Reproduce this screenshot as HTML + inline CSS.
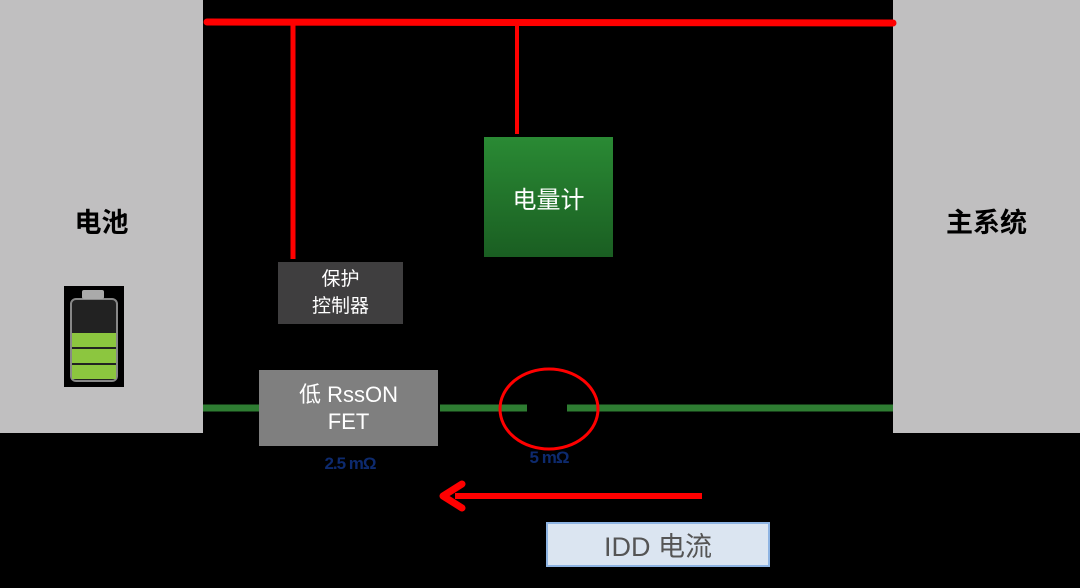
<!DOCTYPE html>
<html><head><meta charset="utf-8"><style>
body{margin:0;width:1080px;height:588px;background:#000;position:relative;overflow:hidden;font-family:"Liberation Sans","Noto Sans CJK SC",sans-serif}
.a{position:absolute}
.c{display:flex;align-items:center;justify-content:center;text-align:center}
</style></head><body>
<div class="a" style="left:0;top:0;width:203px;height:433px;background:#c0bfc0"></div>
<div class="a" style="left:893px;top:0;width:187px;height:433px;background:#c0bfc0"></div>
<div class="a c" style="left:0;top:195px;width:203px;height:50px;font-size:27px;font-weight:bold;color:#000">电池</div>
<div class="a c" style="left:893px;top:195px;width:187px;height:50px;font-size:27px;font-weight:bold;color:#000">主系统</div>
<!-- battery icon -->
<div class="a" style="left:64px;top:286px;width:60px;height:101px;background:#000"></div>
<div class="a" style="left:70px;top:298px;width:48px;height:84px;background:#222;border:2px solid #888;border-radius:6px;box-sizing:border-box"></div>
<div class="a" style="left:82px;top:290px;width:22px;height:9px;background:#aaa;border-radius:2px"></div>
<div class="a" style="left:72px;top:333px;width:44px;height:14px;background:#8cc63f"></div>
<div class="a" style="left:72px;top:349px;width:44px;height:14px;background:#8cc63f"></div>
<div class="a" style="left:72px;top:365px;width:44px;height:14px;background:#8cc63f"></div>
<svg class="a" style="left:0;top:0" width="1080" height="588">
<line x1="207" y1="22" x2="893" y2="23" stroke="#f00" stroke-width="7" stroke-linecap="round"/>
<line x1="293" y1="22" x2="293" y2="259" stroke="#f00" stroke-width="5"/>
<line x1="517" y1="22" x2="517" y2="134" stroke="#f00" stroke-width="4"/>
<line x1="203" y1="408" x2="259" y2="408" stroke="#2e7d32" stroke-width="7"/>
<line x1="440" y1="408" x2="527" y2="408" stroke="#2e7d32" stroke-width="7"/>
<line x1="567" y1="408" x2="893" y2="408" stroke="#2e7d32" stroke-width="7"/>
<ellipse cx="549" cy="409" rx="49" ry="40" fill="none" stroke="#f00" stroke-width="3"/>
<line x1="455" y1="496" x2="702" y2="496" stroke="#f00" stroke-width="6"/>
<polyline points="462,484 443,496 462,508" fill="none" stroke="#f00" stroke-width="7" stroke-linecap="round" stroke-linejoin="round"/>
</svg>
<div class="a c" style="left:484px;top:137px;width:129px;height:120px;background:linear-gradient(#2a8a34,#1a5e22);color:#fff;font-size:24px">电量计</div>
<div class="a c" style="left:278px;top:262px;width:125px;height:62px;background:#3f3e3f;color:#fff;font-size:19px;line-height:27px">保护<br>控制器</div>
<div class="a c" style="left:259px;top:370px;width:179px;height:76px;background:#7f7f7f;color:#fff;font-size:22px;line-height:27px">低 RssON<br>FET</div>
<div class="a c" style="left:300px;top:452px;width:100px;height:24px;color:#0d2a6e;font-size:17px;font-weight:bold;letter-spacing:-1px">2.5 mΩ</div>
<div class="a c" style="left:509px;top:446px;width:80px;height:24px;color:#0d2a6e;font-size:17px;font-weight:bold;letter-spacing:-1px">5 mΩ</div>
<div class="a c" style="left:546px;top:522px;width:224px;height:45px;background:#dbe5f1;border:2px solid #8eb4e3;box-sizing:border-box;color:#555;font-size:27px">IDD 电流</div>
</body></html>
